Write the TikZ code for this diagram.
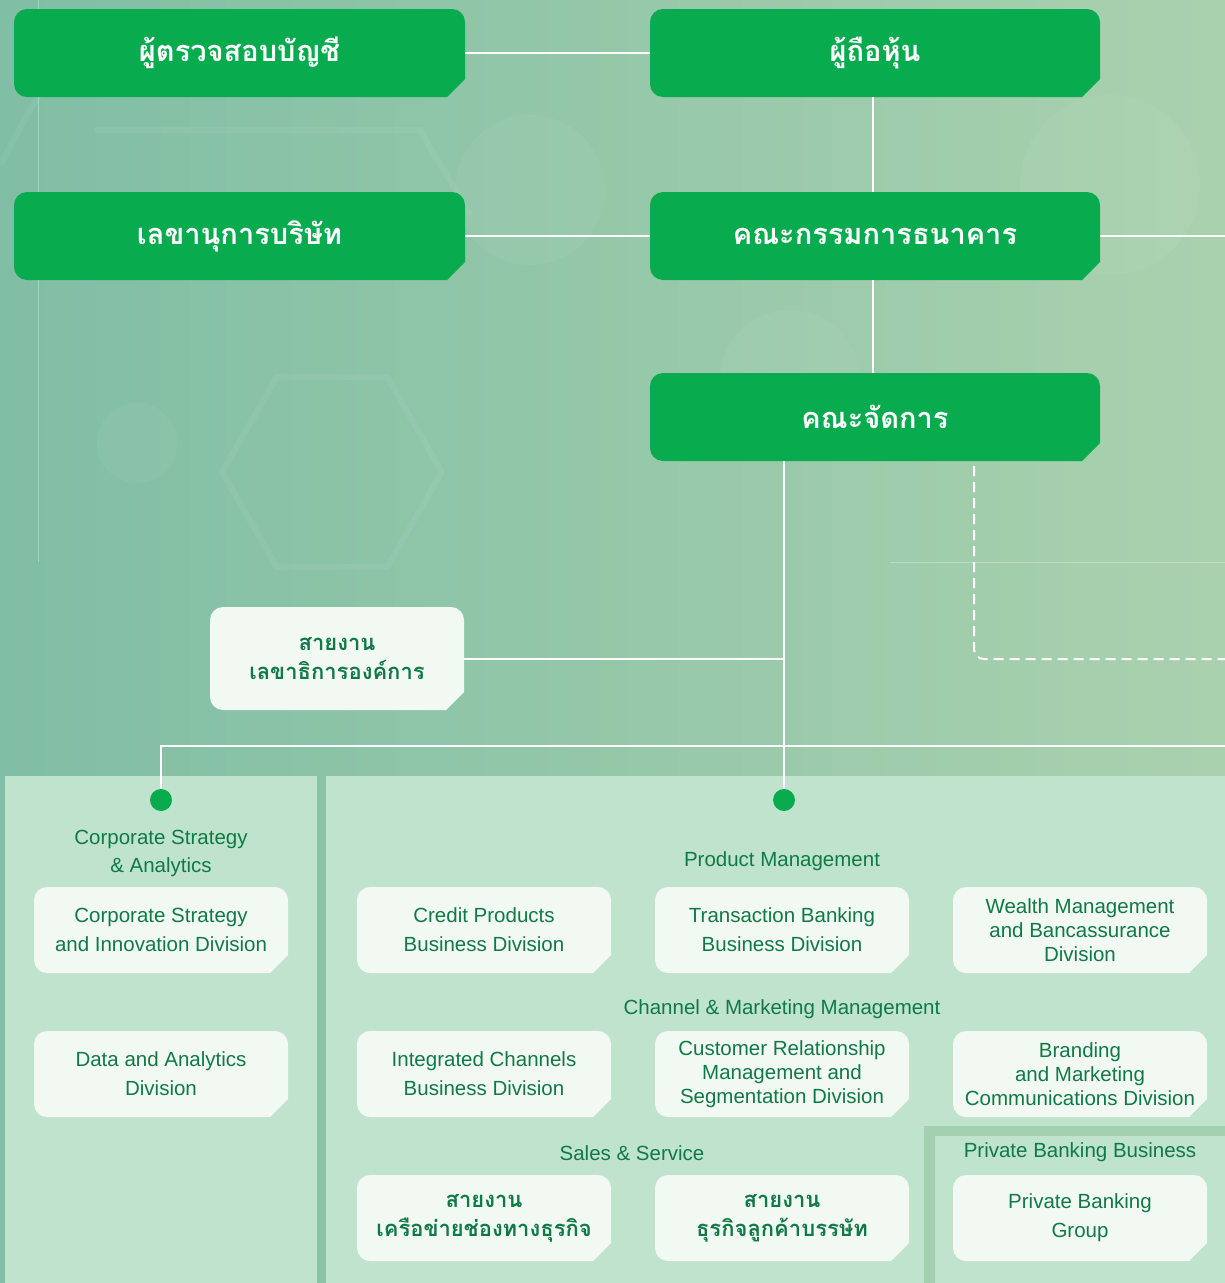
\documentclass[tikz,border=0pt]{standalone}
\usepackage{fontspec}
\setmainfont{Liberation Sans}
\newfontfamily\thaifont[Script=Thai]{Loma}
\usetikzlibrary{calc}
\definecolor{bgL}{HTML}{80BEA5}
\definecolor{bgR}{HTML}{AAD1AE}
\definecolor{boxgreen}{HTML}{09AB4F}
\definecolor{panel}{HTML}{BFE3CD}
\definecolor{panelrim}{HTML}{A3D0B1}
\definecolor{boxwhite}{HTML}{F2F9F3}
\definecolor{txt}{HTML}{107A46}
\tikzset{
  x=1pt, y=1pt,
  boxtext/.style={inner sep=0pt, align=center},
  greentitle/.style={font=\thaifont\bfseries\fontsize{29}{36}\selectfont, text=white},
  entext/.style={font=\fontsize{20.5}{29}\selectfont, text=txt},
  enthree/.style={font=\fontsize{20.5}{24}\selectfont, text=txt},
  thtext/.style={font=\thaifont\bfseries\fontsize{22}{29}\selectfont, text=txt},
  conn/.style={draw=white, line width=2pt},
  dashconn/.style={draw=white, line width=2pt, dash pattern=on 10pt off 6pt, rounded corners=10pt},
  dotmark/.style={circle, fill=boxgreen, minimum size=22pt, inner sep=0pt},
  label/.style={font=\fontsize{20.5}{28}\selectfont, text=txt, align=center, inner sep=0pt},
  deco/.style={draw=white, draw opacity=0.06, line width=6pt},
  decofill/.style={fill=white, fill opacity=0.045},
}
\newcommand\chbox[8]{%
  \pgfmathsetmacro\bw{#4-#2}%
  \pgfmathsetmacro\bh{#5-#3}%
  \fill[#6] ({#2+13},{-#3}) -- ({#4-13},{-#3}) arc[start angle=90,end angle=0,radius=13]
    -- ({#4},{-#5+18}) -- ({#4-18},{-#5}) -- ({#2+13},{-#5})
    arc[start angle=270,end angle=180,radius=13] -- ({#2},{-#3-13})
    arc[start angle=180,end angle=90,radius=13] -- cycle;
  \node[boxtext,#7,minimum width=\bw pt,minimum height=\bh pt] (#1) at ({(#2+#4)/2},{-(#3+#5)/2}) {#8};
}
\begin{document}
\begin{tikzpicture}
\useasboundingbox (0,0) rectangle (1225,-1283);
% background
\shade[left color=bgL, right color=bgR] (0,0) rectangle (1225,-1283);
% faint decorations
\fill[decofill] (137,-443) circle[radius=40];
\fill[decofill] (530,-190) circle[radius=75];
\fill[decofill] (1110,-185) circle[radius=90];
\fill[decofill] (790,-380) circle[radius=70];
\draw[deco] (277,-377) -- (387,-377) -- (442,-472) -- (387,-567) -- (277,-567) -- (222,-472) -- cycle;
\draw[deco] (95,-130) -- (420,-130) -- (470,-215);
\draw[deco] (0,-165) -- (30,-110) -- (60,-60);
\draw[white, opacity=0.3, line width=0.8pt] (38,0) -- (38,-562);
\draw[white, opacity=0.3, line width=0.8pt] (890,-562) -- (1225,-562);
% panels
\fill[panel] (5,-776) rectangle (317,-1283);
\fill[panel] (326,-776) rectangle (1225,-1283);
\fill[panelrim] (924,-1126) rectangle (1225,-1283);
\fill[panel] (935,-1136) rectangle (1225,-1283);
% coordinates
\coordinate (spine) at (873,-236);
\coordinate (dotA) at (161,-800);
\coordinate (dotB) at (784,-800);
\coordinate (rightA) at (1225,-236);
\coordinate (rightB) at (1225,-746);
\coordinate (dashTurn) at (974,-659);
\coordinate (dashEnd) at (1225,-659);
% green boxes
\chbox{auditor}{14}{9}{465}{97}{boxgreen}{greentitle}{ผู้ตรวจสอบบัญชี}
\chbox{share}{650}{9}{1100}{97}{boxgreen}{greentitle}{ผู้ถือหุ้น}
\chbox{secretary}{14}{192}{465}{280}{boxgreen}{greentitle}{เลขานุการบริษัท}
\chbox{board}{650}{192}{1100}{280}{boxgreen}{greentitle}{คณะกรรมการธนาคาร}
\chbox{mgmt}{650}{373}{1100}{461}{boxgreen}{greentitle}{คณะจัดการ}
% org secretariat
\chbox{orgsec}{210}{607}{464}{710}{boxwhite}{thtext}{สายงาน\\เลขาธิการองค์การ}
% connectors
\draw[conn] (auditor.east) -- (share.west);
\draw[conn] (share.south -| spine) -- (board.north -| spine);
\draw[conn] (secretary.east) -- (board.west);
\draw[conn] (board.east) -- (rightA);
\draw[conn] (board.south -| spine) -- (mgmt.north -| spine);
\draw[conn] (mgmt.south -| dotB) -- (dotB);
\draw[conn] (orgsec.east) -- (orgsec.east -| dotB);
\draw[conn] (dotA) |- (rightB);
\draw[dashconn] ([yshift=-5pt]mgmt.south -| dashTurn) -- (dashTurn) -- (dashEnd);
\node[dotmark] (dA) at (dotA) {};
\node[dotmark] (dB) at (dotB) {};
% labels
\node[label] (lcsa) at (161,-853) {Corporate Strategy\\\& Analytics};
\node[label] (lpm) at (782,-861) {Product Management};
\node[label] (lcmm) at (782,-1009) {Channel \& Marketing Management};
\node[label] (lss) at (632,-1153) {Sales \& Service};
\node[label] (lpbb) at (1080,-1152) {Private Banking Business};
% white boxes
\chbox{csi}{34}{887}{288}{973}{boxwhite}{entext}{Corporate Strategy\\and Innovation Division}
\chbox{dad}{34}{1031}{288}{1117}{boxwhite}{entext}{Data and Analytics\\Division}
\chbox{cpb}{357}{887}{611}{973}{boxwhite}{entext}{Credit Products\\Business Division}
\chbox{tbb}{655}{887}{909}{973}{boxwhite}{entext}{Transaction Banking\\Business Division}
\chbox{wmb}{953}{887}{1207}{973}{boxwhite}{enthree}{Wealth Management\\and Bancassurance\\Division}
\chbox{icb}{357}{1031}{611}{1117}{boxwhite}{entext}{Integrated Channels\\Business Division}
\chbox{crm}{655}{1031}{909}{1117}{boxwhite}{enthree}{Customer Relationship\\Management and\\Segmentation Division}
\chbox{bmc}{953}{1031}{1207}{1117}{boxwhite}{enthree}{Branding\\and Marketing\\Communications Division}
\chbox{net}{357}{1175}{611}{1261}{boxwhite}{thtext}{สายงาน\\เครือข่ายช่องทางธุรกิจ}
\chbox{corp}{655}{1175}{909}{1261}{boxwhite}{thtext}{สายงาน\\ธุรกิจลูกค้าบรรษัท}
\chbox{pbg}{953}{1175}{1207}{1261}{boxwhite}{entext}{Private Banking\\Group}
\end{tikzpicture}
\end{document}
